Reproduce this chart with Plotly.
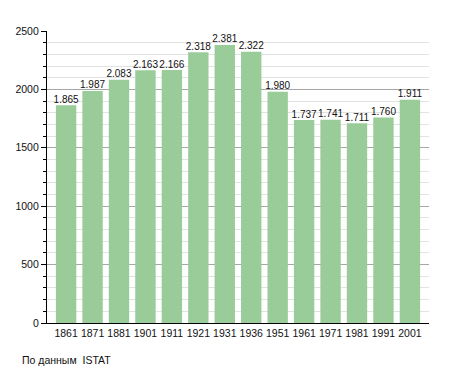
import plotly.graph_objects as go

years = ["1861", "1871", "1881", "1901", "1911", "1921", "1931", "1936", "1951", "1961", "1971", "1981", "1991", "2001"]
population = [1865, 1987, 2083, 2163, 2166, 2318, 2381, 2322, 1980, 1737, 1741, 1711, 1760, 1911]
labels = [f"{v:,}".replace(",", ".") for v in population]
y_ticks = [0, 500, 1000, 1500, 2000, 2500]

FONT = "Liberation Sans, Arial, sans-serif"

fig = go.Figure()
fig.add_trace(go.Bar(
    x=years, y=population,
    marker=dict(color="#99cc99", line=dict(width=0)),
    width=0.77, hoverinfo="x+y",
))
fig.add_trace(go.Scatter(
    x=years, y=population, text=labels, mode="text", textposition="top center",
    textfont=dict(family=FONT, size=10, color="#111"), cliponaxis=False, hoverinfo="skip",
))
fig.update_layout(
    width=455, height=373,
    margin=dict(l=47, r=26, t=31, b=49.5, autoexpand=False),
    plot_bgcolor="white", paper_bgcolor="white",
    showlegend=False,
    font=dict(family=FONT, size=10.5, color="#111"),
)
fig.update_xaxes(
    showline=True, linecolor="black", linewidth=1.3,
    ticks="", tickangle=0, showgrid=False, automargin=False,
)
fig.update_yaxes(
    range=[0, 2500], tickvals=y_ticks, showline=True, linecolor="black", linewidth=1.3,
    ticks="outside", ticklen=5, tickcolor="black", tickwidth=1,
    showgrid=True, gridcolor="#a6a6a6", gridwidth=1, zeroline=False,
    minor=dict(dtick=100, ticks="outside", ticklen=3, tickcolor="black",
               showgrid=True, gridcolor="#e2e2e2", gridwidth=1),
    automargin=False,
)
fig.add_annotation(
    text="По данным  ISTAT", xref="paper", yref="paper",
    x=-27/382, y=-37/292.5, xanchor="left", yanchor="middle",
    showarrow=False, font=dict(family=FONT, size=10.5, color="#111"),
)
fig.write_html("out.html", config={"displayModeBar": False},
               post_script="document.body.style.margin='0px';document.body.style.padding='0px';")
